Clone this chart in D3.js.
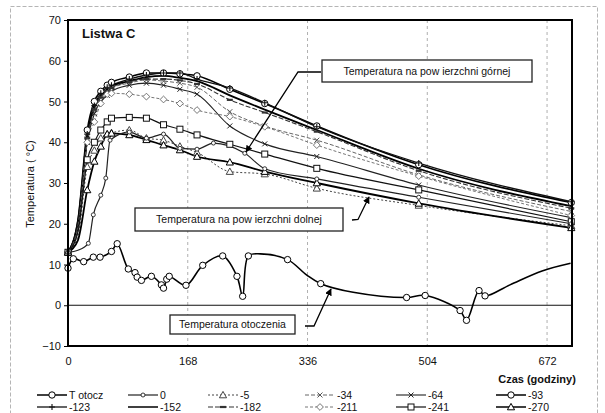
<!DOCTYPE html>
<html><head><meta charset="utf-8">
<script src="https://cdn.jsdelivr.net/npm/d3@7"></script>
<style>body{margin:0;background:#fff} text{font-family:Arial,"Liberation Sans",sans-serif;fill:#111}</style>
</head><body><svg id="c" width="605" height="413"></svg>
<script>
// ---------- data ----------
const xTickValues = [0, 168, 336, 504, 672];
const yTickValues = [-10, 0, 10, 20, 30, 40, 50, 60, 70];
const legendNames = ["T otocz", "0", "-5", "-34", "-64", "-93", "-123", "-152", "-182", "-211", "-241", "-270"];

const hours = [0, 14, 27, 37, 46, 55, 61, 86, 110, 134, 157, 181, 227, 276, 349, 492, 706];
const m5   = [13, 17, 34, 38, 41, 42, 42.3, 43, 41, 40.5, 39, 37.5, 32.8, 32.2, 28.7, 24.5, 19.5];
const m34  = [13, 20, 42, 48, 51, 52.5, 53.3, 54.5, 55.3, 55, 54.5, 53.5, 47.5, 44, 40.5, 32, 23];
const m64  = [13, 19, 40, 47, 50, 51.5, 52.5, 54, 54.5, 54, 53, 51.8, 44, 39.6, 36.5, 29.5, 21.5];
const m93  = [13, 21, 43, 50, 52.5, 54, 54.7, 56, 57, 57, 56.8, 56.3, 53, 49.5, 44, 34.5, 25.2];
const m123 = [13, 21, 42, 49, 52, 53.5, 54, 55.5, 56.5, 57, 57, 55.5, 53.3, 49.7, 43.8, 34.9, 25.4];
const m152 = [13, 20, 41, 49, 51.5, 53, 53.8, 55, 56, 56.3, 55.8, 55, 51.5, 48, 43, 33.5, 24.3];
const m182 = [13, 20, 41, 48, 51, 52.5, 53.3, 54.8, 55.5, 55.5, 55.2, 54.3, 50.4, 47.3, 42.6, 33, 23.8];
const m211 = [13, 19, 40, 45, 49.5, 51.8, 52, 51.8, 51.2, 50.5, 49.5, 47.9, 46.3, 43.8, 39.3, 31.7, 22];
const m241 = [13, 18, 35.7, 40, 43, 45, 45.9, 46.1, 45.9, 44.3, 43.2, 41.8, 39.5, 37.1, 33.6, 28.3, 20.5];
const m270 = [13, 16, 28.3, 35.3, 39, 42, 42.2, 41.8, 40.6, 39.3, 38.1, 36.5, 35.1, 32.8, 30, 25, 19];

const hours0 = [0, 14, 28.5, 35.5, 46, 53, 59, 86, 110, 134, 157, 181, 204, 248, 276, 349, 492, 706];
const m0     = [13, 13.5, 15.2, 22.2, 27, 31.2, 40.5, 42.5, 41, 42, 38.5, 38.3, 39.8, 37.3, 33.5, 31, 26.5, 20];

const ambHours  = [0, 7.5, 22, 35.5, 45, 61, 69, 84.6, 94, 97, 103, 117, 131, 134, 138.5, 142, 165.5, 189, 217, 237, 245, 253, 270, 308, 335, 354.5, 400, 475, 501, 550, 559, 576.6, 585, 620, 665, 705];
const ambTemp   = [9.1, 11.4, 10.7, 11.8, 11.8, 13.2, 15.1, 8.9, 8.0, 6.9, 6.1, 7.1, 5.0, 4.2, 6.4, 7.1, 4.9, 9.8, 12.1, 7.1, 2.2, 12.1, 12.6, 11.2, 7.4, 5.3, 3.2, 1.9, 2.4, -1.3, -3.7, 3.6, 2.3, 5.0, 8.4, 10.3];
const ambMarked = [1, 1, 1, 1, 1, 1, 1, 1, 1, 1, 1, 1, 1, 1, 1, 1, 1, 1, 1, 1, 1, 1, 0, 1, 0, 1, 0, 1, 1, 1, 1, 1, 1, 0, 0, 0];

const annTop = "Temperatura na pow ierzchni górnej";
const annBottom = "Temperatura na pow ierzchni dolnej";
const annAmb = "Temperatura otoczenia";

// ---------- styles ----------
const styles = {
  "T otocz": {w: 1.6, c: "#000", dash: null, m: "circle"},
  "0":    {w: 1.2, c: "#222", dash: null, m: "scircle"},
  "-5":   {w: 1.0, c: "#444", dash: "2,2", m: "triangle"},
  "-34":  {w: 0.9, c: "#555", dash: "4,2", m: "x"},
  "-64":  {w: 1.1, c: "#222", dash: null, m: "x"},
  "-93":  {w: 1.6, c: "#000", dash: null, m: "circle"},
  "-123": {w: 1.3, c: "#111", dash: null, m: "plus"},
  "-152": {w: 1.8, c: "#000", dash: null, m: "none"},
  "-182": {w: 1.1, c: "#333", dash: "5,2", m: "dash"},
  "-211": {w: 0.9, c: "#666", dash: "3,2", m: "diamond"},
  "-241": {w: 1.2, c: "#111", dash: null, m: "square"},
  "-270": {w: 1.8, c: "#000", dash: null, m: "triangle"}
};

const svg = d3.select("#c");
const x = d3.scaleLinear().domain([0, 707]).range([68, 572]);
const y = d3.scaleLinear().domain([-10, 70]).range([346, 20]);

// outer border
svg.append("rect").attr("x", 10.5).attr("y", 6.5).attr("width", 587).attr("height", 412)
  .attr("fill", "none").attr("stroke", "#b5b5b5").attr("stroke-dasharray", "4,2");

// vertical grid
svg.append("g").selectAll("line").data(xTickValues.slice(1)).join("line")
  .attr("x1", d => x(d)).attr("x2", d => x(d)).attr("y1", y(70)).attr("y2", y(-10))
  .attr("stroke", "#9a9a9a").attr("stroke-width", 0.8).attr("stroke-dasharray", "3,3");

// zero line
svg.append("line").attr("x1", x(0)).attr("x2", x(707)).attr("y1", y(0)).attr("y2", y(0))
  .attr("stroke", "#111").attr("stroke-width", 1.2);

function mark(g, type, cx, cy, col) {
  col = col || "#000";
  if (type === "circle") g.append("circle").attr("cx", cx).attr("cy", cy).attr("r", 3.2).attr("fill", "#fff").attr("stroke", col).attr("stroke-width", 1);
  else if (type === "scircle") g.append("circle").attr("cx", cx).attr("cy", cy).attr("r", 2).attr("fill", "#fff").attr("stroke", col).attr("stroke-width", 0.9);
  else if (type === "triangle") g.append("path").attr("d", `M${cx},${cy-3.6}L${cx+3.6},${cy+2.8}L${cx-3.6},${cy+2.8}Z`).attr("fill", "#fff").attr("stroke", col).attr("stroke-width", 1);
  else if (type === "square") g.append("rect").attr("x", cx-3).attr("y", cy-3).attr("width", 6).attr("height", 6).attr("fill", "#fff").attr("stroke", col).attr("stroke-width", 1);
  else if (type === "diamond") g.append("path").attr("d", `M${cx},${cy-3.4}L${cx+3.4},${cy}L${cx},${cy+3.4}L${cx-3.4},${cy}Z`).attr("fill", "#fff").attr("stroke", col).attr("stroke-width", 0.9);
  else if (type === "x") g.append("path").attr("d", `M${cx-2.5},${cy-2.5}L${cx+2.5},${cy+2.5}M${cx-2.5},${cy+2.5}L${cx+2.5},${cy-2.5}`).attr("stroke", col).attr("stroke-width", 1);
  else if (type === "plus") g.append("path").attr("d", `M${cx-3},${cy}L${cx+3},${cy}M${cx},${cy-3}L${cx},${cy+3}`).attr("stroke", col).attr("stroke-width", 1.1);
  else if (type === "dash") g.append("path").attr("d", `M${cx-3},${cy}L${cx+3},${cy}`).attr("stroke", col).attr("stroke-width", 2.2);
}

const seriesList = [
  ["-5", hours, m5], ["-34", hours, m34], ["-64", hours, m64], ["-93", hours, m93],
  ["-123", hours, m123], ["-152", hours, m152], ["-182", hours, m182], ["-211", hours, m211],
  ["-241", hours, m241], ["-270", hours, m270], ["0", hours0, m0]
];

const line = d3.line().x(d => x(d[0])).y(d => y(d[1])).curve(d3.curveMonotoneX);
const plotG = svg.append("g");
seriesList.forEach(([name, hs, vs]) => {
  const st = styles[name];
  const pts = hs.map((h, i) => [h, vs[i]]);
  plotG.append("path").datum(pts).attr("d", line).attr("fill", "none")
    .attr("stroke", st.c).attr("stroke-width", st.w).attr("stroke-dasharray", st.dash);
});
seriesList.forEach(([name, hs, vs]) => {
  const st = styles[name];
  const g = plotG.append("g");
  hs.forEach((h, i) => { if (i !== 1) mark(g, st.m, x(h), y(vs[i]), st.c); });
});

// ambient
const ambPts = ambHours.map((h, i) => [h, ambTemp[i]]);
plotG.append("path").datum(ambPts)
  .attr("d", d3.line().x(d => x(d[0])).y(d => y(d[1])).curve(d3.curveCatmullRom.alpha(0.5)))
  .attr("fill", "none").attr("stroke", "#000").attr("stroke-width", 1.6);
const ambG = plotG.append("g");
ambPts.forEach((p, i) => { if (ambMarked[i]) mark(ambG, "circle", x(p[0]), y(p[1])); });

// frame
svg.append("rect").attr("x", x(0)).attr("y", y(70)).attr("width", x(707) - x(0)).attr("height", y(-10) - y(70))
  .attr("fill", "none").attr("stroke", "#000").attr("stroke-width", 2);

// axes
const ya = svg.append("g").attr("transform", `translate(${x(0)},0)`)
  .call(d3.axisLeft(y).tickValues(yTickValues).tickSize(4).tickPadding(3).tickFormat(d3.format("d")));
ya.select(".domain").remove();
ya.selectAll("text").attr("font-size", 11).attr("fill", "#111").attr("font-family", "Arial, Liberation Sans");
ya.selectAll("line").attr("stroke", "#000");
const xa = svg.append("g").attr("transform", `translate(0,${y(-10)})`)
  .call(d3.axisBottom(x).tickValues(xTickValues).tickSize(0).tickPadding(11));
xa.select(".domain").remove();
xa.selectAll("text").attr("font-size", 11).attr("fill", "#111").attr("font-family", "Arial, Liberation Sans");

// titles
svg.append("text").attr("x", 82).attr("y", 38).attr("font-size", 13).attr("font-weight", "bold").text("Listwa C");
svg.append("text").attr("transform", "translate(34,184) rotate(-90)").attr("text-anchor", "middle")
  .attr("font-size", 11).text("Temperatura ( °C)");
svg.append("text").attr("x", 537).attr("y", 383).attr("text-anchor", "middle")
  .attr("font-size", 11).attr("font-weight", "bold").text("Czas (godziny)");

// arrow marker
svg.append("defs").append("marker").attr("id", "ah").attr("viewBox", "0 0 10 10")
  .attr("refX", 9).attr("refY", 5).attr("markerWidth", 7).attr("markerHeight", 7)
  .attr("markerUnits", "userSpaceOnUse").attr("orient", "auto")
  .append("path").attr("d", "M0,0L10,5L0,10Z").attr("fill", "#000");

function annotation(bx, by, bw, bh, txt, arrowPts) {
  svg.append("path").attr("d", d3.line()(arrowPts)).attr("fill", "none").attr("stroke", "#000")
    .attr("stroke-width", 1.3).attr("marker-end", "url(#ah)");
  svg.append("rect").attr("x", bx).attr("y", by).attr("width", bw).attr("height", bh)
    .attr("fill", "#fff").attr("stroke", "#222").attr("stroke-width", 1.3);
  svg.append("text").attr("x", bx + bw / 2).attr("y", by + bh / 2 + 3.8).attr("text-anchor", "middle")
    .attr("font-size", 10.5).text(txt);
}
annotation(322, 60, 210, 22, annTop, [[321, 72], [298, 72], [246, 152]]);
annotation(135, 208, 208, 23, annBottom, [[352, 220], [358, 219.5], [369, 197]]);
annotation(170, 315, 125, 19, annAmb, [[305, 326], [314, 326], [331, 289]]);

// legend
const legX = [69, 160, 240, 337, 428, 528];
const legY = [395, 407];
legendNames.forEach((name, i) => {
  const col = i % 6, row = Math.floor(i / 6);
  const tx = legX[col], ty = legY[row];
  const st = styles[name];
  const g = svg.append("g");
  g.append("line").attr("x1", tx - 32).attr("x2", tx - 2).attr("y1", ty).attr("y2", ty)
    .attr("stroke", st.c).attr("stroke-width", Math.min(st.w, 1.5)).attr("stroke-dasharray", st.dash);
  mark(g, st.m, tx - 17, ty, st.c);
  g.append("text").attr("x", tx).attr("y", ty + 4).attr("font-size", 10.5).text(name);
});
</script></body></html>
